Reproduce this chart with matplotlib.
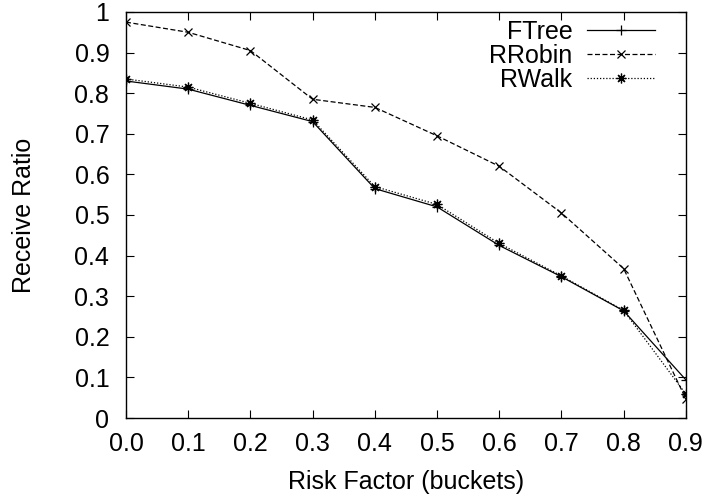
import matplotlib
matplotlib.use("Agg")
import matplotlib.pyplot as plt

# Receive ratio vs. risk factor
risk = [0.0, 0.1, 0.2, 0.3, 0.4, 0.5, 0.6, 0.7, 0.8, 0.9]
ftree = [0.830, 0.810, 0.770, 0.730, 0.565, 0.520, 0.425, 0.348, 0.264, 0.094]
rrobin = [0.975, 0.950, 0.905, 0.785, 0.765, 0.695, 0.620, 0.505, 0.368, 0.047]
rwalk = [0.835, 0.815, 0.775, 0.734, 0.570, 0.526, 0.430, 0.350, 0.265, 0.059]

x_ticks = [0.0, 0.1, 0.2, 0.3, 0.4, 0.5, 0.6, 0.7, 0.8, 0.9]
x_tick_labels = ["0.0", "0.1", "0.2", "0.3", "0.4", "0.5", "0.6", "0.7", "0.8", "0.9"]
y_ticks = [0, 0.1, 0.2, 0.3, 0.4, 0.5, 0.6, 0.7, 0.8, 0.9, 1]
y_tick_labels = ["0", "0.1", "0.2", "0.3", "0.4", "0.5", "0.6", "0.7", "0.8", "0.9", "1"]

plt.rcParams["font.family"] = ["Liberation Sans", "DejaVu Sans"]
FS = 18

fig = plt.figure(figsize=(7.02, 4.99), dpi=100)
ax = fig.add_axes([0.1795, 0.1623, 0.7975, 0.8137])

ax.plot(risk, ftree, color="black", linewidth=0.9, linestyle="-",
        marker="+", markersize=7, markeredgewidth=0.9, label="FTree")
ax.plot(risk, rrobin, color="black", linewidth=0.9, linestyle=(0, (4, 2)),
        marker="x", markersize=6, markeredgewidth=0.9, label="RRobin")
ax.plot(risk, rwalk, color="black", linewidth=0.9, linestyle=(0, (1, 1.5)),
        marker=(8, 2, 0), markersize=7, markeredgewidth=0.9, label="RWalk")

ax.set_xlim(0.0, 0.9)
ax.set_ylim(0, 1)
ax.set_xticks(x_ticks)
ax.set_xticklabels(x_tick_labels)
ax.set_yticks(y_ticks)
ax.set_yticklabels(y_tick_labels)
ax.tick_params(direction="in", length=6, width=0.8, labelsize=FS,
               top=True, right=True)
ax.tick_params(axis="y", pad=12)
ax.tick_params(axis="x", pad=10)
for s in ax.spines.values():
    s.set_linewidth(1.0)

ax.set_xlabel("Risk Factor (buckets)", fontsize=FS, labelpad=10)
ax.set_ylabel("Receive Ratio", fontsize=FS, labelpad=28)

leg = ax.legend(loc="upper right", frameon=False, markerfirst=False,
                fontsize=FS, handlelength=2.7, handletextpad=0.6,
                labelspacing=0.0, borderpad=0, borderaxespad=0,
                bbox_to_anchor=(0.9446, 0.98))
for t in leg.get_texts():
    t.set_horizontalalignment("right")

fig.savefig("out.png", dpi=100)
